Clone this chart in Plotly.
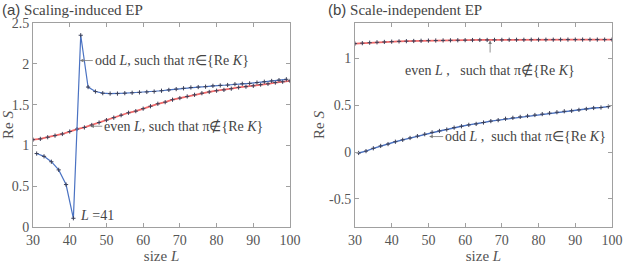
import plotly.graph_objects as go

# ---- data ----
L_even = list(range(30, 101, 2))
L_odd = list(range(31, 100, 2))

a_even = [1.07, 1.08, 1.10, 1.12, 1.14, 1.17, 1.20, 1.22, 1.25, 1.28,
          1.31, 1.34, 1.37, 1.40, 1.42, 1.45, 1.48, 1.51, 1.53, 1.56,
          1.58, 1.60, 1.62, 1.64, 1.655, 1.67, 1.68, 1.695, 1.71, 1.72,
          1.73, 1.745, 1.755, 1.77, 1.78, 1.79]
a_odd = [0.90, 0.866, 0.80, 0.70, 0.52, 0.107, 2.35, 1.715, 1.66, 1.64,
         1.635, 1.635, 1.64, 1.645, 1.65, 1.655, 1.66, 1.67, 1.68, 1.69,
         1.70, 1.71, 1.715, 1.72, 1.73, 1.735, 1.74, 1.75, 1.755, 1.76,
         1.77, 1.78, 1.79, 1.80, 1.81]

b_even = [1.157, 1.162, 1.167, 1.171, 1.175, 1.178, 1.181, 1.183, 1.185, 1.187,
          1.189, 1.19, 1.191, 1.192, 1.193, 1.194, 1.195, 1.196, 1.196, 1.197,
          1.197, 1.198, 1.198, 1.198, 1.199, 1.199, 1.199, 1.199, 1.2, 1.2,
          1.2, 1.2, 1.2, 1.2, 1.2, 1.2]
b_odd = [-0.01, 0.01, 0.04, 0.065, 0.085, 0.11, 0.13, 0.15, 0.17, 0.19,
         0.21, 0.225, 0.24, 0.26, 0.275, 0.29, 0.30, 0.315, 0.33, 0.34,
         0.355, 0.365, 0.375, 0.385, 0.395, 0.405, 0.415, 0.425, 0.435, 0.44,
         0.45, 0.46, 0.47, 0.475, 0.485]

x_ticks = [30, 40, 50, 60, 70, 80, 90, 100]
ya_ticks = [0, 0.5, 1, 1.5, 2, 2.5]
ya_labels = ["0", "0.5", "1", "1.5", "2", "2.5"]
yb_ticks = [-0.5, 0, 0.5, 1]
yb_labels = ["-0.5", "0", "0.5", "1"]

BLUE = "#4a72c2"
RED = "#f26b6b"
MK = "#3a3f58"
SERIF = "Liberation Serif"
GRAY = "#555555"
AX = "#a0a0a0"

fig = go.Figure()

def add_series(x, y, color, width, xa, ya):
    fig.add_trace(go.Scatter(
        x=x, y=y, mode="lines+markers", xaxis=xa, yaxis=ya,
        line=dict(color=color, width=width),
        marker=dict(symbol="cross-thin", size=3, color=MK,
                    line=dict(color=MK, width=1)),
        showlegend=False, hoverinfo="skip"))

add_series(L_even, a_even, RED, 1.8, "x", "y")
add_series(L_odd, a_odd, BLUE, 1.2, "x", "y")
add_series(L_even, b_even, RED, 1.8, "x2", "y2")
add_series(L_odd, b_odd, BLUE, 1.4, "x2", "y2")

tfont = dict(family=SERIF, size=14, color=GRAY)
axis_common = dict(
    showgrid=False, zeroline=False, showline=True, linecolor=AX, linewidth=1,
    mirror="ticks", ticks="inside", ticklen=4, tickcolor=AX, tickwidth=1,
    tickfont=tfont, automargin=False,
)
tt = dict(family=SERIF, size=15, color=GRAY)

fig.update_layout(
    width=623, height=264,
    margin=dict(l=33, r=11, t=23, b=37),
    font=dict(family=SERIF, size=14, color=GRAY),
    plot_bgcolor="white", paper_bgcolor="white",
    xaxis=dict(domain=[0, 0.4439], range=[30, 100], tickvals=x_ticks,
               title=dict(text="size <i>L</i>", standoff=0, font=tt), **axis_common),
    yaxis=dict(domain=[0, 1], range=[0, 2.5], tickvals=ya_ticks, ticktext=ya_labels,
               title=dict(text="Re <i>S</i>", standoff=0, font=tt), **axis_common),
    xaxis2=dict(domain=[0.5561, 1], range=[30, 100], tickvals=x_ticks, anchor="y2",
                title=dict(text="size <i>L</i>", standoff=0, font=tt), **axis_common),
    yaxis2=dict(domain=[0, 1], range=[-0.8, 1.377], tickvals=yb_ticks, ticktext=yb_labels,
                anchor="x2",
                title=dict(text="Re <i>S</i>", standoff=0, font=tt), **axis_common),
)

afont = dict(family=SERIF, size=14, color="#444444")
arrow = dict(showarrow=True, arrowhead=2, arrowsize=0.9, arrowwidth=0.8,
             arrowcolor="#777777", font=afont)

fig.add_annotation(x=42.75, y=2.04, xref="x", yref="y",
                   text="odd <i>L</i>, such that π∈{Re <i>K</i>}",
                   ax=13, ay=0, xanchor="left", **arrow)
fig.add_annotation(x=45.6, y=1.235, xref="x", yref="y",
                   text="even <i>L</i>, such that π∉{Re <i>K</i>}",
                   ax=12, ay=0, xanchor="left", **arrow)
fig.add_annotation(x=42.2, y=0.14, xref="x", yref="y",
                   text="<i>L</i> =41", showarrow=False, xanchor="left",
                   yanchor="middle", font=afont)

fig.add_annotation(x=66.8, y=1.19, xref="x2", yref="y2",
                   text="even <i>L</i> ,   such that π∉{Re <i>K</i>}",
                   ax=0, ay=20, yanchor="top", startstandoff=8, **arrow)
fig.add_annotation(x=50.2, y=0.165, xref="x2", yref="y2",
                   text="odd <i>L</i> ,  such that π∈{Re <i>K</i>}",
                   ax=14, ay=0, xanchor="left", **arrow)

fig.add_annotation(x=0, y=1, xref="paper", yref="paper", xanchor="left", yanchor="bottom",
                   xshift=-33, yshift=3, showarrow=False,
                   text="<span style='font-family:Liberation Sans'>(a)</span> Scaling-induced EP",
                   font=dict(family=SERIF, size=15, color="#444444"))
fig.add_annotation(x=0.5561, y=1, xref="paper", yref="paper", xanchor="left", yanchor="bottom",
                   xshift=-29, yshift=3, showarrow=False,
                   text="<span style='font-family:Liberation Sans'>(b)</span> Scale-independent EP",
                   font=dict(family=SERIF, size=15, color="#444444"))

fig.write_html("out.html", config={"displayModeBar": False},
               post_script="document.body.style.margin='0';")
